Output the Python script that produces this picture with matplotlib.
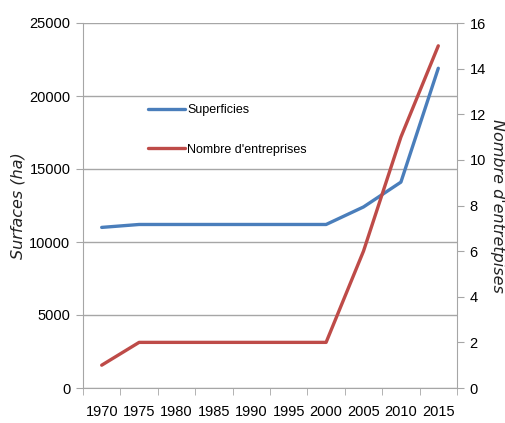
import matplotlib
matplotlib.use("Agg")
import matplotlib.pyplot as plt
import numpy as np

years = ["1970", "1975", "1980", "1985", "1990", "1995", "2000", "2005", "2010", "2015"]
superficies = [11000, 11200, 11200, 11200, 11200, 11200, 11200, 12400, 14100, 21900]
entreprises = [1, 2, 2, 2, 2, 2, 2, 6, 11, 15]

BLUE = "#4a7ebb"
RED = "#be4b48"
GRID = "#a6a6a6"
plt.rcParams["font.family"] = ["Liberation Sans", "DejaVu Sans"]

fig = plt.figure(figsize=(5.06, 4.23), dpi=100)
ax = fig.add_axes([83 / 506, 1 - 388 / 423, (457 - 83) / 506, (388 - 23) / 423])
ax2 = ax.twinx()

x = np.arange(len(years))
l1, = ax.plot(x, superficies, color=BLUE, lw=2.4, solid_capstyle="round", label="Superficies")
l2, = ax2.plot(x, entreprises, color=RED, lw=2.4, solid_capstyle="round", label="Nombre d'entreprises")

ax.set_xlim(-0.5, len(years) - 0.5)
ax.set_ylim(0, 25000)
ax2.set_ylim(0, 16)
ax.set_yticks(np.arange(0, 25001, 5000))
ax2.set_yticks(np.arange(0, 17, 2))
ax.set_xticks(x)
ax.set_xticklabels(years)
ax.set_xticks(np.arange(-0.5, len(years), 1), minor=True)
ax.tick_params(axis="x", which="major", length=0, pad=12, labelsize=10.5)
ax.tick_params(axis="x", which="minor", length=5, color=GRID)
ax.tick_params(axis="y", length=5, color=GRID, labelsize=10.5, pad=4)
ax2.tick_params(axis="y", length=5, color=GRID, labelsize=10.5, pad=4)

ax.grid(axis="y", color=GRID, lw=1)
ax.set_axisbelow(True)
for a in (ax, ax2):
    a.spines["top"].set_visible(False)
    for s in ("left", "right", "bottom"):
        a.spines[s].set_color(GRID)
ax.spines["right"].set_visible(False)
ax2.spines["left"].set_visible(False)
ax2.spines["bottom"].set_visible(False)

ax.set_ylabel("Surfaces (ha)", family="DejaVu Sans", style="italic", fontsize=11.5,
              color="#222222", labelpad=3)
ax2.set_ylabel("Nombre d'entretpises", family="DejaVu Sans", style="italic", fontsize=11.5,
               color="#222222", rotation=270, labelpad=14)

ax2.legend(handles=[l1, l2], loc="upper left", bbox_to_anchor=(148 / 506, 1 - 104 / 423),
           bbox_transform=fig.transFigure, frameon=False, fontsize=9, borderpad=0,
           borderaxespad=0, handlelength=3.0, handletextpad=0.15, labelspacing=2.2)

fig.savefig("out.png", dpi=100)
